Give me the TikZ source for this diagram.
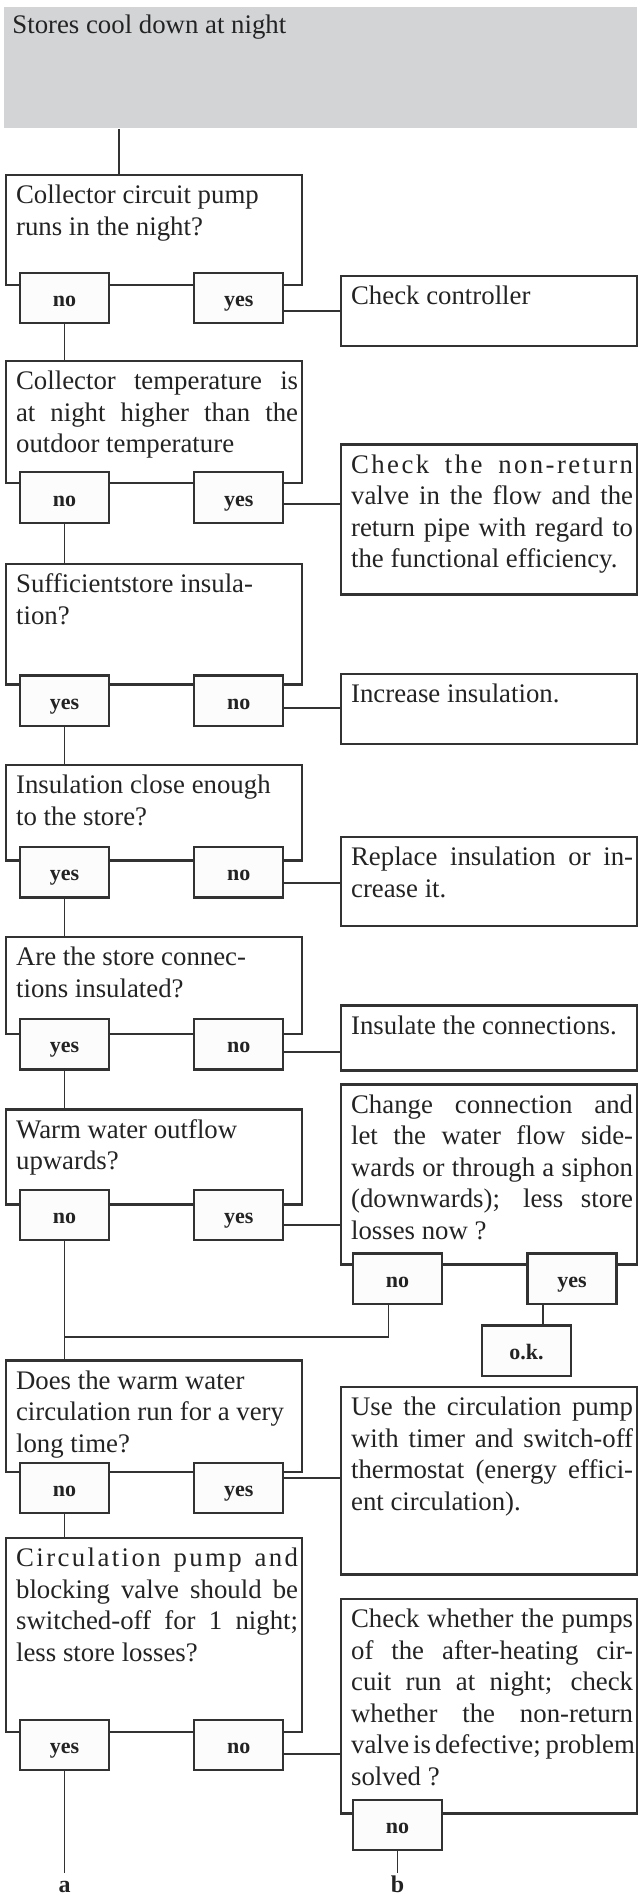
\documentclass[tikz,border=0pt]{standalone}
\usepackage{fontspec}
\setmainfont{Liberation Serif}
\usepackage{tikz}
\usetikzlibrary{positioning,calc}

\definecolor{headgray}{RGB}{211,212,214}
\definecolor{linegray}{RGB}{50,50,50}
\definecolor{labelfill}{RGB}{252,252,252}
\definecolor{textgray}{RGB}{35,35,35}

\newcommand{\txtfont}{\fontsize{13.4pt}{15.8pt}\selectfont}
\newcommand{\lblfont}{\fontsize{11pt}{13pt}\selectfont\bfseries}
\newcommand{\jl}[1]{\makebox[\linewidth][s]{\spaceskip=.25em plus 1em minus .1em\relax#1}}
\newcommand{\jls}[1]{\makebox[\linewidth][s]{\addfontfeature{LetterSpace=9}\spaceskip=.25em plus 1em minus .1em\relax#1}}
\newcommand{\boxtext}[2]{\hspace*{5pt}\parbox[t][#1][t]{141pt}{\rule{0pt}{14.3pt}#2}\hspace*{2pt}}

\begin{document}
\begin{tikzpicture}[x=0.5pt,y=-0.5pt,
  qbox/.style={draw=linegray,line width=1.1pt,anchor=north west,inner sep=0pt,font=\txtfont,text=textgray},
  ans/.style={draw=linegray,line width=1.1pt,fill=labelfill,minimum width=44.5pt,minimum height=25.25pt,
    inner sep=0pt,text height=8.5pt,text depth=0pt,font=\lblfont,text=textgray},
  endlbl/.style={anchor=base,inner sep=1pt,text height=8.5pt,text depth=0pt,
    font=\fontsize{12pt}{14pt}\selectfont\bfseries,text=textgray},
  link/.style={draw=linegray,line width=0.9pt}]
  \useasboundingbox (0,0) rectangle (637,1894);

  % header
  \node[fill=headgray,anchor=north west,inner sep=0pt,font=\txtfont,text=textgray] (head) at (4,7)
    {\hspace*{4pt}\parbox[t][60.5pt][t]{312.5pt}{\rule{0pt}{13pt}Stores cool down at night}};

  % pump at night
  \node[qbox] (q1) at (5,174) {\boxtext{55pt}{Collector circuit pump\\runs in the night?}};
  \node[ans] (no1) at (64.5,298) {no};
  \node[ans] (yes1) at (238.75,298) {yes};
  \node[qbox] (r1) at (340,275) {\boxtext{35pt}{Check controller}};

  % collector temperature
  \node[qbox] (q2) at (5,360) {\boxtext{60.85pt}{\jl{Collector temperature is}\\\jl{at night higher than the}\\outdoor temperature}};
  \node[ans] (no2) at (64.5,497.5) {no};
  \node[ans] (yes2) at (238.75,497.5) {yes};
  \node[qbox] (r2) at (340,443.3) {\boxtext{75pt}{\jls{Check the non-return}\\\jl{valve in the flow and the}\\\jl{return pipe with regard to}\\the functional efficiency.}};

  % insulation
  \node[qbox] (q3) at (5,562.7) {\boxtext{60.3pt}{Sufficientstore insula-\\tion?}};
  \node[ans] (yes3) at (64.5,700.7) {yes};
  \node[ans] (no3) at (238.75,700.7) {no};
  \node[qbox] (r3) at (340,672.7) {\boxtext{35pt}{Increase insulation.}};

  \node[qbox] (q4) at (5,764) {\boxtext{47.65pt}{Insulation close enough\\to the store?}};
  \node[ans] (yes4) at (64.5,872.2) {yes};
  \node[ans] (no4) at (238.75,872.2) {no};
  \node[qbox] (r4) at (340,836) {\boxtext{44.5pt}{\jl{Replace insulation or in-}\\crease it.}};

  \node[qbox] (q5) at (5,936) {\boxtext{48.35pt}{Are the store connec-\\tions insulated?}};
  \node[ans] (yes5) at (64.5,1044.2) {yes};
  \node[ans] (no5) at (238.75,1044.2) {no};
  \node[qbox] (r5) at (340,1004.3) {\boxtext{32.5pt}{Insulate the connections.}};

  % outflow
  \node[qbox] (q6) at (5,1108.3) {\boxtext{47.5pt}{Warm water outflow\\upwards?}};
  \node[ans] (no6) at (64.5,1215) {no};
  \node[ans] (yes6) at (238.75,1215) {yes};
  \node[qbox] (r6) at (340,1083.3) {\boxtext{90pt}{\jl{Change connection and}\\\jl{let the water flow side-}\\\jl{wards or through a siphon}\\\jl{(downwards); less store}\\losses now ?}};
  \node[ans] (r6no) at (397.5,1278.7) {no};
  \node[ans] (r6yes) at (572,1278.7) {yes};
  \node[ans] (ok) at (526.5,1350.7) {o.k.};
  \coordinate (join) at (64.5,1337.3);

  % circulation
  \node[qbox] (q7) at (5,1359.3) {\boxtext{55.7pt}{Does the warm water\\circulation run for a very\\long time?}};
  \node[ans] (no7) at (64.5,1488) {no};
  \node[ans] (yes7) at (238.75,1488) {yes};
  \node[qbox] (r7) at (340,1386) {\boxtext{93.65pt}{\jl{Use the circulation pump}\\\jl{with timer and switch-off}\\\jl{thermostat (energy effici-}\\ent circulation).}};

  \node[qbox] (q8) at (5,1536.7) {\boxtext{97.15pt}{\jls{Circulation pump and}\\\jl{blocking valve should be}\\\jl{switched-off for 1 night;}\\less store losses?}};
  \node[ans] (yes8) at (64.5,1745) {yes};
  \node[ans] (no8) at (238.75,1745) {no};
  \node[qbox] (r8) at (340,1597.7) {\boxtext{107.3pt}{\jl{Check whether the pumps}\\\jl{of the after-heating cir-}\\\jl{cuit run at night; check}\\\jl{whether the non-return}\\\jl{valve is defective; problem}\\solved ?}};
  \node[ans] (r8no) at (397.5,1825) {no};

  \node[endlbl] (a) at (64.5,1892) {a};
  \node[endlbl] (b) at (397.5,1892) {b};

  % connectors
  \draw[link] ([xshift=57.5pt]head.south west) -- ([xshift=57.5pt]head.south west |- q1.north);
  \draw[link] (no1.south) -- (no1.south |- q2.north);
  \draw[link] (no2.south) -- (no2.south |- q3.north);
  \draw[link] (yes3.south) -- (yes3.south |- q4.north);
  \draw[link] (yes4.south) -- (yes4.south |- q5.north);
  \draw[link] (yes5.south) -- (yes5.south |- q6.north);
  \draw[link] (no6.south) -- (no6.south |- q7.north);
  \draw[link] (no7.south) -- (no7.south |- q8.north);
  \draw[link] (yes8.south) -- (a.north);
  \draw[link] (r8no.south) -- (b.north);

  \draw[link] ([yshift=-6.5pt]yes1.east) -- ([yshift=-6.5pt]yes1.east -| r1.west);
  \draw[link] ([yshift=-3.25pt]yes2.east) -- ([yshift=-3.25pt]yes2.east -| r2.west);
  \draw[link] ([yshift=-3.8pt]no3.east) -- ([yshift=-3.8pt]no3.east -| r3.west);
  \draw[link] ([yshift=-5.25pt]no4.east) -- ([yshift=-5.25pt]no4.east -| r4.west);
  \draw[link] ([yshift=-3.75pt]no5.east) -- ([yshift=-3.75pt]no5.east -| r5.west);
  \draw[link] ([yshift=-5pt]yes6.east) -- ([yshift=-5pt]yes6.east -| r6.west);
  \draw[link] ([yshift=4.85pt]yes7.east) -- ([yshift=4.85pt]yes7.east -| r7.west);
  \draw[link] ([yshift=-4.5pt]no8.east) -- ([yshift=-4.5pt]no8.east -| r8.west);

  \draw[link] ([xshift=-4.5pt]r6no.south) |- (join);
  \draw[link] ([xshift=-14.5pt]r6yes.south) -- ([xshift=-14.5pt]r6yes.south |- ok.north);
\end{tikzpicture}
\end{document}
